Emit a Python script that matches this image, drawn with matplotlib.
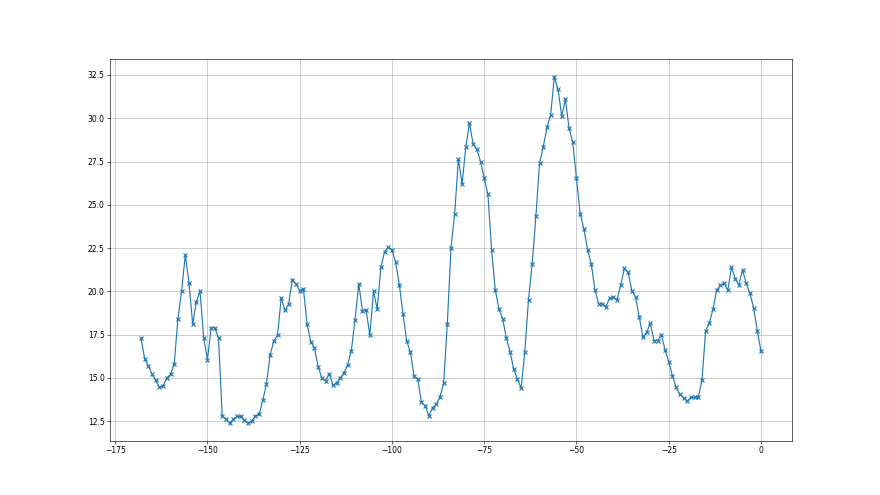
import numpy as np
import matplotlib.pyplot as plt

# x positions run from -168 up to 0, one sample per step
days = np.arange(-168, 1)

values = [
    17.3, 16.1, 15.7, 15.2, 14.85, 14.45, 14.55, 15.0, 15.2, 15.8,      # -168..-159
    18.4, 20.0, 22.1, 20.5, 18.1, 19.4, 20.0, 17.3, 16.05, 17.9,        # -158..-149
    17.9, 17.3, 12.8, 12.65, 12.38, 12.6, 12.77, 12.77, 12.54, 12.4,    # -148..-139
    12.5, 12.8, 12.9, 13.7, 14.67, 16.33, 17.15, 17.46, 19.63, 18.9,    # -138..-129
    19.27, 20.67, 20.44, 20.04, 20.15, 18.13, 17.1, 16.73, 15.65, 15.0, # -128..-119
    14.81, 15.25, 14.58, 14.71, 15.0, 15.27, 15.77, 16.58, 18.37, 20.44,# -118..-109
    18.88, 18.94, 17.47, 20.0, 18.98, 21.38, 22.29, 22.54, 22.4, 21.69, # -108..-99
    20.38, 18.68, 17.13, 16.48, 15.1, 14.91, 13.58, 13.4, 12.8, 13.28,  # -98..-89
    13.47, 13.89, 14.69, 18.1, 22.52, 24.49, 27.64, 26.19, 28.32, 29.71,# -88..-79
    28.51, 28.2, 27.5, 26.56, 25.61, 22.4, 20.08, 18.98, 18.42, 17.29,  # -78..-69
    16.51, 15.5, 14.92, 14.42, 16.51, 19.52, 21.59, 24.33, 27.42, 28.35,# -68..-59
    29.47, 30.18, 32.4, 31.67, 30.13, 31.09, 29.41, 28.6, 26.52, 24.49, # -58..-49
    23.62, 22.4, 21.59, 20.09, 19.28, 19.28, 19.12, 19.62, 19.67, 19.5, # -48..-39
    20.39, 21.33, 21.1, 20.04, 19.69, 18.54, 17.35, 17.63, 18.15, 17.15,# -38..-29
    17.15, 17.5, 16.62, 15.94, 15.12, 14.46, 14.04, 13.85, 13.65, 13.88,# -28..-19
    13.88, 13.88, 14.85, 17.73, 18.17, 18.97, 20.07, 20.34, 20.46, 20.06,# -18..-9
    21.39, 20.74, 20.36, 21.26, 20.46, 19.89, 19.06, 17.73, 16.53,      # -8..0
]

fig = plt.figure(figsize=(16, 9), dpi=55)
plt.plot(days, values, marker='x', color='tab:blue', linewidth=1.5,
         markersize=6.5, markeredgewidth=1.5)
plt.grid()
plt.savefig('out.png', dpi=55)
